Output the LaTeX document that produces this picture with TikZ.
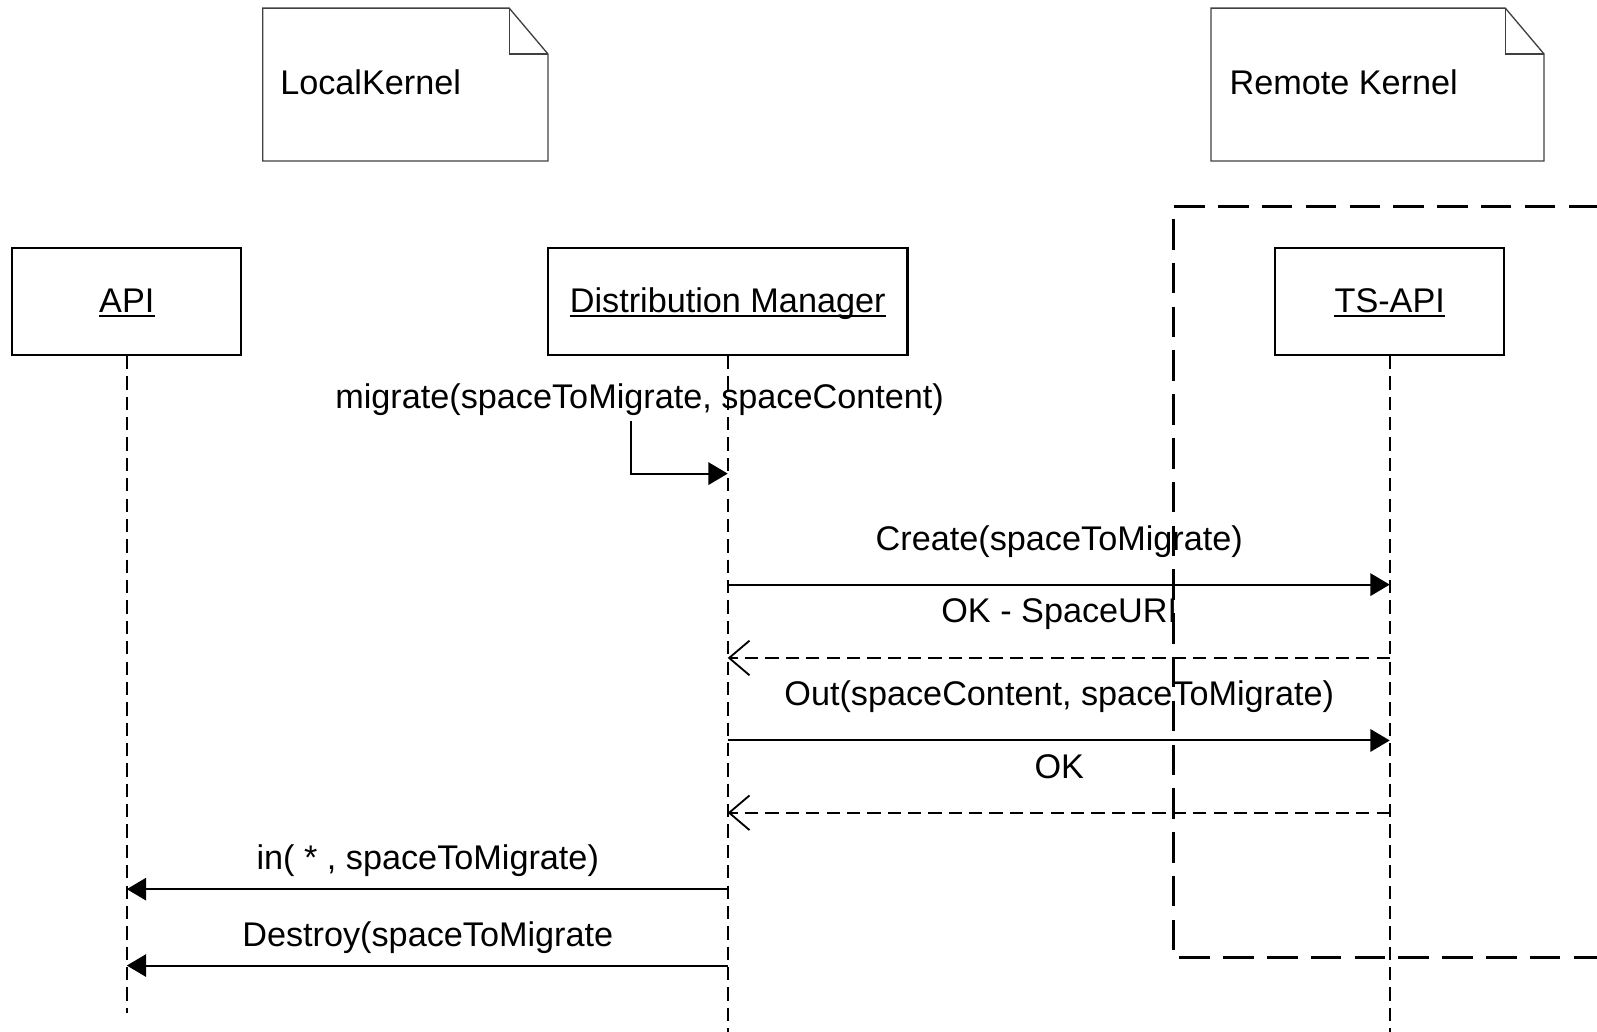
\documentclass[tikz,border=0pt]{standalone}
\usepackage{fontspec}
\setmainfont{Liberation Sans}
\usetikzlibrary{arrows.meta}
\begin{document}
\begin{tikzpicture}[x=1pt,y=-1pt,
  every node/.style={font=\fontsize{33.6}{40}\selectfont, inner sep=0pt},
  notebox/.style={draw=black!75, line width=1.3pt, line join=miter},
  objbox/.style={draw, line width=2pt, minimum height=105pt},
  lifeline/.style={draw, line width=1.8pt, dash pattern=on 13pt off 7pt},
  frame/.style={draw, line width=3pt, dash pattern=on 30pt off 13pt},
  syncmsg/.style={draw, line width=2pt, -{Triangle[length=19pt,width=22pt]}},
  retmsg/.style={draw, line width=1.8pt, dash pattern=on 13pt off 7pt, -{Straight Barb[length=20pt,width=34pt,line width=1.8pt]}},
  lbl/.style={anchor=base},
  uline/.style={line width=2pt}
]
\useasboundingbox (0,0) rectangle (1568,1013);

% notes
\draw[notebox] (258,8) -- (500,8) -- (538,53) -- (538,158) -- (258,158) -- cycle;
\draw[notebox] (500,8) -- (500,53) -- (538,53);
\node[anchor=base west] (lk) at (275,93) {LocalKernel};
\draw[notebox] (1189,8) -- (1478,8) -- (1516,53) -- (1516,158) -- (1189,158) -- cycle;
\draw[notebox] (1478,8) -- (1478,53) -- (1516,53);
\node[anchor=base west] (rk) at (1207,93) {Remote Kernel};

% frame
\draw[frame] (1570,203) -- (1152,203) -- (1152,940) -- (1570,940);

% objects
\node[objbox, minimum width=225pt] (api) at (124.5,296) {};
\node[objbox, minimum width=353pt] (dm) at (714.5,296) {};
\node[objbox, minimum width=225pt] (ts) at (1364.5,296) {};
\node[lbl] (apil) at (124.5,307) {API};
\node[lbl] (dml) at (714.5,307) {Distribution Manager};
\node[lbl] (tsl) at (1364.5,307) {TS-API};
\draw[uline] ([yshift=-3pt]apil.base west) -- ([yshift=-3pt]apil.base east);
\draw[uline] ([yshift=-3pt]dml.base west) -- ([yshift=-3pt]dml.base east);
\draw[uline] ([yshift=-3pt]tsl.base west) -- ([yshift=-3pt]tsl.base east);

% lifelines
\coordinate (apiEnd) at (124.5,995);
\coordinate (dmEnd) at (714.5,1013);
\coordinate (tsEnd) at (1364.5,1013);
\draw[lifeline] (api.south) -- (apiEnd);
\draw[lifeline] (dm.south) -- (dmEnd);
\draw[lifeline] (ts.south) -- (tsEnd);

% self call
\node[lbl] (mig) at (628,401) {migrate(spaceToMigrate, spaceContent)};
\coordinate (s0) at (620,413);
\coordinate (s1) at (620,465);
\coordinate (s2) at (714.5,465);
\draw[syncmsg] (s0) -- (s1) -- (s2);

% messages
\coordinate (a1) at (714.5,574); \coordinate (b1) at (1364.5,574);
\coordinate (a2) at (714.5,646); \coordinate (b2) at (1364.5,646);
\coordinate (a3) at (714.5,727); \coordinate (b3) at (1364.5,727);
\coordinate (a4) at (714.5,798); \coordinate (b4) at (1364.5,798);
\coordinate (a5) at (714.5,873); \coordinate (b5) at (124.5,873);
\coordinate (a6) at (714.5,948); \coordinate (b6) at (124.5,948);

\node[lbl] (t1) at (1040,540) {Create(spaceToMigrate)};
\draw[syncmsg] (a1) -- (b1);
\node[lbl] (t2) at (1040,611) {OK - SpaceURI};
\draw[retmsg] (b2) -- (a2);
\node[lbl] (t3) at (1040,693) {Out(spaceContent, spaceToMigrate)};
\draw[syncmsg] (a3) -- (b3);
\node[lbl] (t4) at (1040,764) {OK};
\draw[retmsg] (b4) -- (a4);
\node[lbl] (t5) at (420,854) {in( * , spaceToMigrate)};
\draw[syncmsg] (a5) -- (b5);
\node[lbl] (t6) at (420,929) {Destroy(spaceToMigrate};
\draw[syncmsg] (a6) -- (b6);
\end{tikzpicture}
\end{document}
